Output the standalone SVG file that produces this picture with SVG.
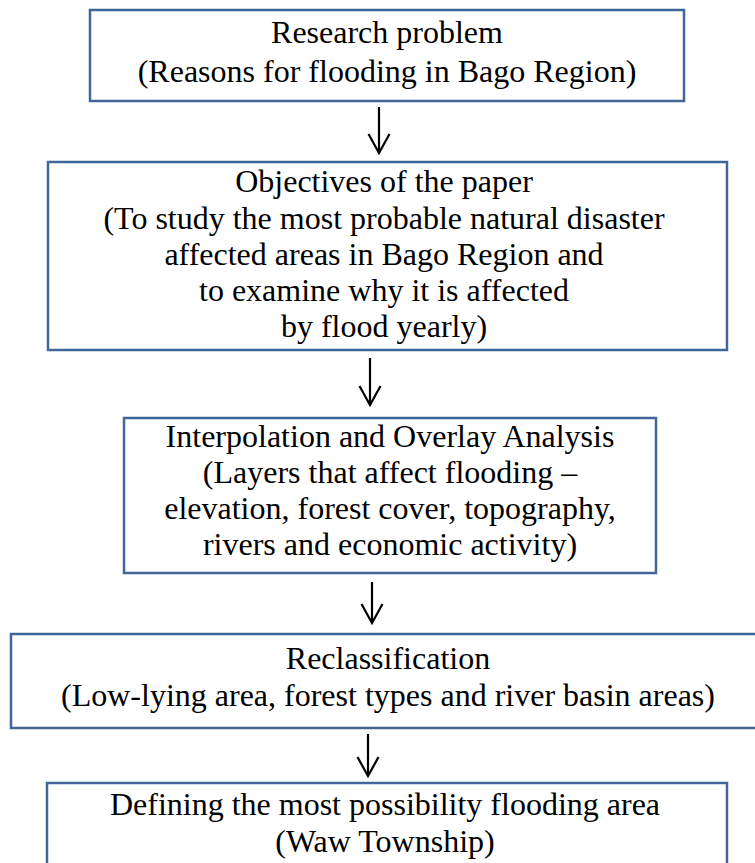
<svg xmlns="http://www.w3.org/2000/svg" width="755" height="863" viewBox="0 0 755 863">
<style>
.box{fill:#fff;stroke:#41679a;stroke-width:2.5}
.t{font-family:"Liberation Serif","Times New Roman",serif;font-size:32px;fill:#000;text-anchor:middle}
.c{stroke:#000;stroke-width:2.2;fill:none}
</style>
<defs>
<marker id="ah" viewBox="0 0 23 24" refX="21" refY="12" markerWidth="23" markerHeight="24" markerUnits="userSpaceOnUse" orient="auto">
<path d="M2,1.5 L21,12 L2,22.5" fill="none" stroke="#000" stroke-width="2.2"/>
</marker>
</defs>
<rect width="755" height="863" fill="#fff"/>
<g id="connectors">
<line class="c" x1="379" y1="107" x2="379" y2="153" marker-end="url(#ah)"/>
<line class="c" x1="370" y1="358" x2="370" y2="405" marker-end="url(#ah)"/>
<line class="c" x1="372" y1="582" x2="372" y2="623" marker-end="url(#ah)"/>
<line class="c" x1="368" y1="734" x2="368" y2="776" marker-end="url(#ah)"/>
</g>
<g id="n1">
<rect class="box" x="90" y="10" width="594" height="91"/>
<text class="t" x="387" y="43">Research problem</text>
<text class="t" x="387" y="82">(Reasons for flooding in Bago Region)</text>
</g>
<g id="n2">
<rect class="box" x="48" y="162" width="679" height="188"/>
<text class="t" x="384" y="192">Objectives of the paper</text>
<text class="t" x="384" y="229">(To study the most probable natural disaster</text>
<text class="t" x="384" y="265">affected areas in Bago Region and</text>
<text class="t" x="384" y="301">to examine why it is affected</text>
<text class="t" x="384" y="337">by flood yearly)</text>
</g>
<g id="n3">
<rect class="box" x="124" y="418" width="532" height="155"/>
<text class="t" x="390" y="447">Interpolation and Overlay Analysis</text>
<text class="t" x="390" y="483">(Layers that affect flooding –</text>
<text class="t" x="390" y="519">elevation, forest cover, topography,</text>
<text class="t" x="390" y="555">rivers and economic activity)</text>
</g>
<g id="n4">
<rect class="box" x="11" y="634" width="752" height="94"/>
<text class="t" x="388" y="669">Reclassification</text>
<text class="t" x="388" y="706">(Low-lying area, forest types and river basin areas)</text>
</g>
<g id="n5">
<rect class="box" x="47" y="783" width="680" height="100"/>
<text class="t" x="385" y="815">Defining the most possibility flooding area</text>
<text class="t" x="385" y="852">(Waw Township)</text>
</g>
</svg>
